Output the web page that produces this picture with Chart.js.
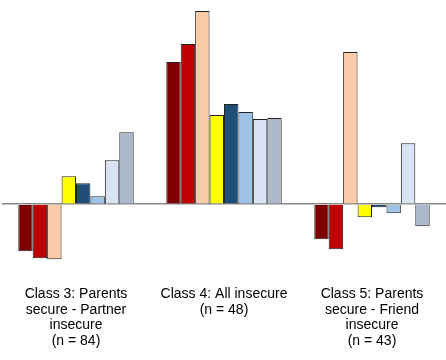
<!DOCTYPE html>
<html>
<head>
<meta charset="utf-8">
<script src="https://cdn.jsdelivr.net/npm/chart.js@4"></script>
<style>
    html, body { margin: 0; padding: 0; background: #fff; }
    #wrap { width: 446px; height: 360px; }
</style>
</head>
<body>
<div id="wrap"><canvas id="grafico"></canvas></div>
<script>
// Categorias (rótulos em várias linhas)
const classes = [
    ['Class 3: Parents', 'secure - Partner', 'insecure', '(n = 84)'],
    ['Class 4: All insecure', '(n = 48)'],
    ['Class 5: Parents', 'secure - Friend', 'insecure', '(n = 43)']
];

// Uma série por cor, valores estimados da imagem
const serie1 = [-0.47, 1.42, -0.35];
const serie2 = [-0.54, 1.60, -0.45];
const serie3 = [-0.55, 1.93, 1.52];
const serie4 = [0.28, 0.89, -0.13];
const serie5 = [0.21, 1.00, -0.03];
const serie6 = [0.08, 0.92, -0.09];
const serie7 = [0.44, 0.85, 0.61];
const serie8 = [0.72, 0.86, -0.22];

const series = [serie1, serie2, serie3, serie4, serie5, serie6, serie7, serie8];
const cores = ['#7f0000', '#c00000', '#fbcaa9', '#ffff00', '#1f4e79', '#9dc3e6', '#dae3f3', '#adb9ca'];

const ctx = document.getElementById('grafico').getContext('2d');
const grafico = new Chart(ctx, {
    type: 'bar',
    data: {
        labels: classes,
        datasets: series.map((valores, i) => ({
            label: 'S' + (i + 1),
            data: valores,
            backgroundColor: cores[i],
            borderColor: '#222',
            borderWidth: 1,
            categoryPercentage: 0.78,
            barPercentage: 1.0
        }))
    },
    options: {
        responsive: true,
        maintainAspectRatio: false,
        animation: false,
        layout: { padding: { left: 2, right: 0, top: 0, bottom: 5 } },
        plugins: {
            legend: { display: false },
            tooltip: { enabled: false }
        },
        scales: {
            x: {
                grid: { display: false, drawTicks: false },
                border: { display: false },
                ticks: {
                    color: '#000',
                    padding: 6,
                    maxRotation: 0,
                    autoSkip: false,
                    font: { family: "'Liberation Sans', Arial, sans-serif", size: 14, lineHeight: 1.12 }
                }
            },
            y: {
                min: -0.76,
                max: 2.04,
                ticks: { display: false, stepSize: 1 },
                border: { display: false },
                grid: {
                    drawTicks: false,
                    lineWidth: 1.5,
                    color: (c) => (c.tick && c.tick.value === 0 ? '#888' : 'rgba(0,0,0,0)')
                }
            }
        }
    }
});
</script>
</body>
</html>
